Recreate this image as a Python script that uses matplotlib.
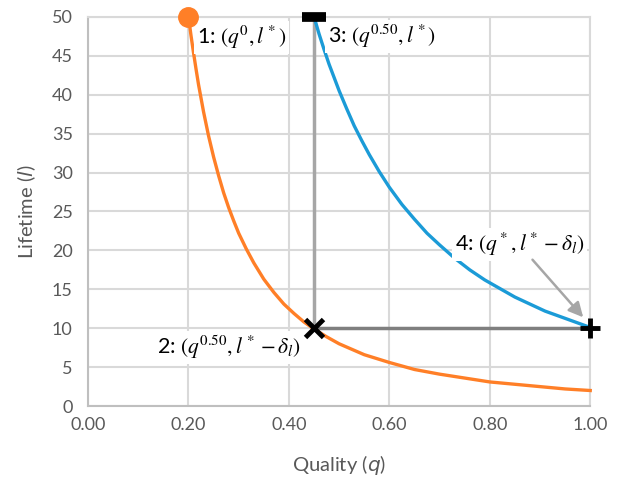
import matplotlib
matplotlib.use("Agg")
from matplotlib import pyplot as plt

# values
orange_q = [0.200, 0.205, 0.210, 0.215, 0.220, 0.230, 0.240, 0.250, 0.260, 0.270, 0.280,
            0.290, 0.300, 0.315, 0.330, 0.350, 0.370, 0.390, 0.410, 0.430, 0.450, 0.475,
            0.500, 0.550, 0.600, 0.650, 0.700, 0.750, 0.800, 0.850, 0.900, 0.950, 1.000]
orange_l = [50.0, 47.6, 45.4, 43.3, 41.3, 37.8, 34.7, 32.0, 29.6, 27.4, 25.5,
            23.8, 22.2, 20.2, 18.4, 16.3, 14.6, 13.1, 11.9, 10.8, 9.9, 8.9,
            8.0, 6.6, 5.6, 4.7, 4.1, 3.6, 3.1, 2.8, 2.5, 2.2, 2.0]

blue_q = [0.450, 0.460, 0.470, 0.480, 0.490, 0.500, 0.515, 0.530, 0.545, 0.560, 0.580,
          0.600, 0.625, 0.650, 0.675, 0.700, 0.730, 0.760, 0.790, 0.820, 0.850, 0.880,
          0.910, 0.940, 0.970, 1.000]
blue_l = [50.0, 47.8, 45.8, 43.9, 42.2, 40.5, 38.2, 36.0, 34.1, 32.3, 30.1,
          28.1, 25.9, 24.0, 22.2, 20.7, 19.0, 17.5, 16.2, 15.1, 14.0, 13.1,
          12.2, 11.5, 10.8, 10.1]

point1 = (0.20, 50)
point2 = (0.45, 10)
point3 = (0.45, 50)
point4 = (1.00, 10)

xticks = [0.0, 0.2, 0.4, 0.6, 0.8, 1.0]
yticks = [0, 5, 10, 15, 20, 25, 30, 35, 40, 45, 50]

gridColor = "#D9D9D9"
textColor = "#595959"

plt.rcParams['font.family'] = ['Lato', 'DejaVu Sans']

fig = plt.figure(figsize=(6.2, 4.8), dpi=100)
ax = fig.add_axes([0.142, 0.154, 0.81, 0.811])

ax.set_xlim(0, 1)
ax.set_ylim(0, 50)
ax.set_xticks(xticks)
ax.set_yticks(yticks)
ax.set_xticklabels([f"{t:.2f}" for t in xticks])
ax.grid(True, color=gridColor, linewidth=1.5, zorder=0)
ax.set_axisbelow(True)
ax.tick_params(axis="x", length=0, labelsize=13, labelcolor=textColor, pad=8)
ax.tick_params(axis="y", length=0, labelsize=13, labelcolor=textColor, pad=11)
for side in ["top", "right"]:
    ax.spines[side].set_color(gridColor)
    ax.spines[side].set_linewidth(1.5)
for side in ["left", "bottom"]:
    ax.spines[side].set_color("#BFBFBF")
    ax.spines[side].set_linewidth(1.5)

ax.set_xlabel("Quality ($q$)", fontsize=14.5, color=textColor, labelpad=14,
              math_fontfamily="dejavusans")
ax.set_ylabel("Lifetime ($l$)", fontsize=14.5, color=textColor, labelpad=10,
              math_fontfamily="dejavusans")

# guide lines
ax.plot([point2[0], point3[0]], [point2[1], point3[1]], color="#A6A6A6", lw=2.5, zorder=2)
ax.plot([point2[0], point4[0]], [point2[1], point4[1]], color="#7F7F7F", lw=2.5, zorder=2)

ax.plot(orange_q, orange_l, color="#FF7F27", lw=2.4, zorder=3, clip_on=False)
ax.plot(blue_q, blue_l, color="#1B9BD7", lw=2.4, zorder=3, clip_on=False)

# markers
ax.plot(*point1, marker="o", ms=14, color="#FF7F27", zorder=5, clip_on=False)
ax.plot(*point3, marker="_", ms=17, mew=7, color="black", zorder=5, clip_on=False)
ax.plot(*point2, marker="x", ms=13, mew=3.5, color="black", zorder=5, clip_on=False)
ax.plot(*point4, marker="+", ms=14, mew=3.5, color="black", zorder=5, clip_on=False)

box = dict(facecolor="white", edgecolor="none", pad=2)
labelStyle = dict(fontsize=15.5, va="center", ha="left", color="black",
                  math_fontfamily="stix", bbox=box, zorder=4)
ax.text(0.217, 47.3, r"1: $(q^0, l^*)$", **labelStyle)
ax.text(0.477, 47.5, r"3: $(q^{0.50}, l^*)$", **labelStyle)
ax.text(0.137, 7.5, r"2: $(q^{0.50}, l^* - \delta_l)$", **labelStyle)
ax.text(0.730, 20.8, r"4: $(q^*, l^* - \delta_l)$", **labelStyle)

ax.annotate("", xy=(0.986, 11.4), xytext=(0.885, 18.8),
            arrowprops=dict(arrowstyle="-|>", color="#A6A6A6", lw=1.8,
                            mutation_scale=22, shrinkA=0, shrinkB=0), zorder=4)

fig.savefig("out.png", dpi=100)
